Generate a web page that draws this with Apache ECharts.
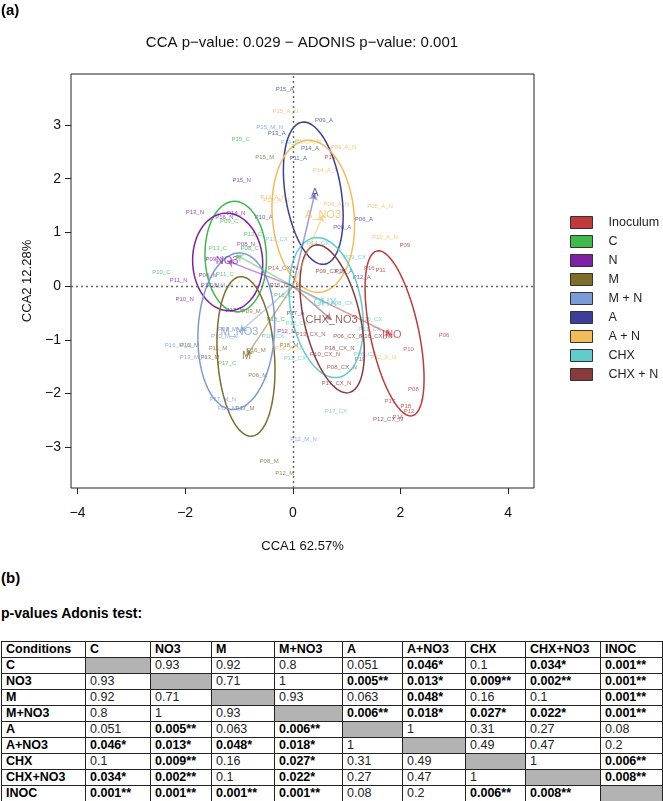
<!DOCTYPE html>
<html>
<head>
<meta charset="utf-8">
<title>CCA</title>
<script src="https://cdn.jsdelivr.net/npm/echarts@6/dist/echarts.min.js"></script>
<style>
  body { margin: 0; background: #fff; font-family: "Liberation Sans", Arial, sans-serif; }
  #chart { position: absolute; left: 0; top: 0; width: 663px; height: 560px; }
  .tag { position: absolute; left: 1px; font-weight: bold; color: #000; }
  #adonis { position: absolute; left: 1px; top: 641px; border-collapse: collapse; table-layout: fixed; }
  #adonis td { border: 1px solid #222; height: 15px; padding: 0 0 0 4px; font-size: 12.5px; line-height: 15px;
    white-space: nowrap; overflow: hidden; color: #222; }
  #adonis td.b { font-weight: bold; color: #000; }
  #adonis td.diag { background: #b3b3b3; }
</style>
</head>
<body>
<div id="chart"></div>
<div class="tag" style="top:569px;font-size:15px;">(b)</div>
<div class="tag" style="top:605px;font-size:14px;">p-values Adonis test:</div>
<table id="adonis"></table>

<script>
  // groups (legend order) and colours
  const groups = ['Inoculum', 'C', 'N', 'M', 'M + N', 'A', 'A + N', 'CHX', 'CHX + N'];
  const groupColors = ['#C0393B', '#3DBA4A', '#7F1FA6', '#7E6D2B', '#7B9AD8', '#3D3D9C', '#F2BC5A', '#62CCCC', '#8A3A3A'];

  // sample scores [CCA1, CCA2, label] per group
  const inocPts = [[2.08, 0.75, 'P09'], [0.69, 2.39, 'P13'], [1.42, 0.34, 'P16'], [1.63, 0.29, 'P11'], [2.81, -0.92, 'P06'],
    [2.15, -1.17, 'P10'], [1.25, -1.36, 'P19'], [2.24, -1.92, 'P08'], [1.80, -2.14, 'P17'], [2.10, -2.23, 'P18'],
    [2.16, -2.34, 'P12'], [1.95, -2.44, 'P14']];
  const cPts = [[-0.97, 2.74, 'P15_C'], [-1.18, 1.20, 'P09_C'], [-0.74, 0.97, 'P12_C'], [-1.39, 0.70, 'P13_C'], [-0.80, 0.70, 'P08_C'],
    [-2.44, 0.25, 'P10_C'], [-1.26, 0.22, 'P11_C'], [-0.18, -0.17, 'P16_C'], [-0.32, -0.62, 'P18_C'], [-1.22, -1.43, 'P17_C']];
  const nPts = [[-0.95, 1.97, 'P15_N'], [-1.82, 1.38, 'P13_N'], [-1.27, 1.28, 'P16_N'], [-1.05, 1.35, 'P14_N'], [-0.87, 0.78, 'P08_N'],
    [-1.45, 0.50, 'P09_N'], [-1.58, 0.20, 'P06_N'], [-2.12, 0.10, 'P11_N'], [-1.54, 0.02, 'P18_N'], [-2.01, -0.24, 'P10_N'],
    [-1.08, -0.45, 'P17_N'], [-0.12, -0.85, 'P12_N']];
  const mPts = [[-0.52, 2.39, 'P15_M'], [-0.77, -0.47, 'P09_M'], [-1.92, -1.11, 'P10_M'], [-1.39, -1.16, 'P11_M'], [-1.54, -1.32, 'P13_M'],
    [-0.68, -1.19, 'P16_M'], [-0.65, -1.66, 'P06_M'], [-0.89, -2.28, 'P17_M'], [-0.44, -3.27, 'P08_M'], [-0.15, -3.48, 'P12_M'],
    [-0.07, -1.10, 'P18_M']];
  const mnPts = [[-0.43, 2.95, 'P15_M_N'], [-1.36, 0.02, 'P08_M_N'], [-1.14, -0.81, 'P09_M_N'], [-1.27, -0.94, 'P10_M_N'],
    [-2.13, -1.11, 'P16_M_N'], [-1.85, -1.32, 'P13_M_N'], [-1.30, -2.11, 'P17_M_N'], [-1.14, -2.28, 'P06_M_N'], [0.20, -2.85, 'P12_M_N']];
  const aPts = [[-0.15, 3.66, 'P15_A'], [0.58, 3.09, 'P09_A'], [-0.30, 2.85, 'P13_A'], [0.32, 2.57, 'P14_A'], [0.10, 2.38, 'P11_A'],
    [-0.54, 1.28, 'P10_A'], [1.32, 1.25, 'P06_A'], [0.92, 1.10, 'P08_A'], [1.28, 0.16, 'P12_A'], [0.95, 0.27, 'P16_A'],
    [0.05, -0.51, 'P17_A']];
  const anPts = [[-0.14, 3.26, 'P15_A_N'], [0.28, 2.70, 'P16_A_N'], [0.94, 2.58, 'P09_A_N'], [0.61, 2.16, 'P14_A_N'],
    [-0.36, 1.66, 'P13_A_N'], [-0.31, 1.59, 'P17_A_N'], [0.81, 1.53, 'P06_A_N'], [1.62, 1.49, 'P08_A_N'], [1.71, 0.91, 'P10_A_N'],
    [1.68, -1.32, 'P12_A_N'], [-0.09, -1.16, 'P18_A_N']];
  const chxPts = [[-0.02, 2.67, 'P10_CX'], [-0.30, 0.87, 'P13_CX'], [0.47, 0.80, 'P14_CX'], [1.15, 0.53, 'P09_CX'], [0.91, -0.33, 'P08_CX'],
    [1.46, -0.62, 'P16_CX'], [1.43, -0.81, 'P11_CX'], [-0.37, -0.94, 'P18_CX'], [0.07, -0.69, 'P12_CX'], [1.34, -1.27, 'P06_CX'],
    [0.04, -1.35, 'P15_CX'], [0.80, -2.33, 'P17_CX']];
  const chxnPts = [[-0.18, 0.34, 'P14_CX_N'], [0.70, 0.27, 'P09_CX_N'], [-0.15, 0.01, 'P15_CX_N'], [0.33, -0.89, 'P13_CX_N'],
    [1.03, -0.93, 'P06_CX_N'], [1.53, -0.93, 'P16_CX_N'], [0.87, -1.15, 'P18_CX_N'], [0.60, -1.27, 'P10_CX_N'],
    [0.91, -1.51, 'P08_CX_N'], [0.81, -1.81, 'P17_CX_N'], [1.77, -2.48, 'P12_CX_N']];
  const samplePts = [inocPts, cPts, nPts, mPts, mnPts, aPts, anPts, chxPts, chxnPts];

  // group centroids (arrow tips), same order as groups
  const centroidNames = ['INO', 'C', 'NO3', 'M', 'M_NO3', 'A', 'A_NO3', 'CHX', 'CHX_NO3'];
  const centroidX = [1.84, -1.05, -1.22, -0.86, -0.99, 0.41, 0.56, 0.60, 0.72];
  const centroidY = [-0.91, 0.58, 0.47, -1.30, -0.85, 1.73, 1.32, -0.32, -0.63];
  const centroidShown = [true, false, true, true, true, true, true, true, true];

  // group ellipses: centre, semi axes, rotation (deg)
  const ellX = [1.89, -1.06, -1.21, -0.87, -1.05, 0.38, 0.38, 0.62, 0.73];
  const ellY = [-0.88, 0.55, 0.45, -1.31, -0.84, 1.73, 1.30, -0.40, -0.61];
  const ellA = [1.57, 1.03, 0.91, 1.49, 1.46, 1.34, 1.42, 1.32, 1.41];
  const ellB = [0.45, 0.57, 0.65, 0.53, 0.71, 0.52, 0.76, 0.66, 0.52];
  const ellAngle = [102, 92, 93, 94, 87, 99, 95, 100, 103];

  const xTicks = [-4, -2, 0, 2, 4];
  const yTicks = [-3, -2, -1, 0, 1, 2, 3];

  // adonis pairwise p-values
  const conditions = ['C', 'NO3', 'M', 'M+NO3', 'A', 'A+NO3', 'CHX', 'CHX+NO3', 'INOC'];
  const pValues = [
    [null, 0.93, 0.92, 0.8, 0.051, 0.046, 0.1, 0.034, 0.001],
    [0.93, null, 0.71, 1, 0.005, 0.013, 0.009, 0.002, 0.001],
    [0.92, 0.71, null, 0.93, 0.063, 0.048, 0.16, 0.1, 0.001],
    [0.8, 1, 0.93, null, 0.006, 0.018, 0.027, 0.022, 0.001],
    [0.051, 0.005, 0.063, 0.006, null, 1, 0.31, 0.27, 0.08],
    [0.046, 0.013, 0.048, 0.018, 1, null, 0.49, 0.47, 0.2],
    [0.1, 0.009, 0.16, 0.027, 0.31, 0.49, null, 1, 0.006],
    [0.034, 0.002, 0.1, 0.022, 0.27, 0.47, 1, null, 0.008],
    [0.001, 0.001, 0.001, 0.001, 0.08, 0.2, 0.006, 0.008, null]
  ];
  const colWidths = [84, 65, 61, 63, 68, 60, 63, 60, 75, 62];

  const FONT = '"Liberation Sans", Arial, sans-serif';

  function ellipsePoints(i) {
    const pts = [];
    const t = ellAngle[i] * Math.PI / 180;
    for (let k = 0; k <= 120; k++) {
      const u = k / 120 * 2 * Math.PI;
      const ex = ellA[i] * Math.cos(u), ey = ellB[i] * Math.sin(u);
      pts.push([ellX[i] + ex * Math.cos(t) - ey * Math.sin(t), ellY[i] + ex * Math.sin(t) + ey * Math.cos(t)]);
    }
    return pts;
  }

  const series = [];
  // ellipses (named like the legend so the legend picks their colour)
  groups.forEach((g, i) => {
    const s = {
      type: 'line', name: g, data: ellipsePoints(i), showSymbol: false, silent: true, z: 4,
      itemStyle: { color: groupColors[i] },
      lineStyle: { color: groupColors[i], width: 1.5 }
    };
    if (i === 0) {
      s.markLine = {
        silent: true, symbol: 'none', label: { show: false },
        lineStyle: { color: '#666', type: [2, 3], width: 1.4 },
        data: [{ xAxis: 0 }, { yAxis: 0 }]
      };
    }
    series.push(s);
  });
  // sample labels
  groups.forEach((g, i) => {
    series.push({
      type: 'scatter', name: 'lab ' + g, data: samplePts[i], symbolSize: 1, silent: true, z: 3,
      itemStyle: { color: 'rgba(0,0,0,0)' },
      label: { show: true, position: 'inside', formatter: p => p.data[2], color: groupColors[i], fontSize: 6, fontFamily: FONT }
    });
  });
  // arrows from origin to centroids
  series.push({
    type: 'lines', coordinateSystem: 'cartesian2d', silent: true, z: 5,
    symbol: ['none', 'arrow'], symbolSize: 7,
    data: centroidNames.map((n, i) => ({
      coords: [[0, 0], [centroidX[i], centroidY[i]]],
      lineStyle: { color: groupColors[i], width: 1.5 }
    }))
  });
  series.push({
    type: 'scatter', name: 'centroids', symbolSize: 1, silent: true, z: 6,
    itemStyle: { color: 'rgba(0,0,0,0)' },
    data: centroidNames.map((n, i) => ({
      value: [centroidX[i], centroidY[i]],
      label: { show: centroidShown[i], formatter: n, color: groupColors[i] }
    })),
    label: { position: 'inside', fontSize: 11, fontFamily: FONT }
  });

  const chart = echarts.init(document.getElementById('chart'));
  chart.setOption({
    animation: false,
    textStyle: { fontFamily: FONT },
    graphic: [
      { type: 'text', x: 1, y: 3, style: { text: '(a)', fill: '#000', font: 'bold 15px ' + FONT } },
      { type: 'text', x: 302, y: 43, style: { text: 'CCA p\u2212value: 0.029 \u2212 ADONIS p\u2212value: 0.001', fill: '#111',
          font: '15px ' + FONT, align: 'center', verticalAlign: 'middle', textAlign: 'center', textVerticalAlign: 'middle' } }
    ],
    legend: {
      data: groups, orient: 'vertical', left: 565, top: 211, icon: 'rect', itemWidth: 22, itemHeight: 12, itemGap: 6,
      selectedMode: false, itemStyle: { borderColor: '#333', borderWidth: 1 },
      textStyle: { fontSize: 12.5, color: '#222', padding: [0, 0, 0, 11] }
    },
    grid: { left: 71, top: 74, width: 463, height: 414, show: true, borderColor: '#222', borderWidth: 1,
      containLabel: false, outerBoundsMode: 'none' },
    xAxis: {
      type: 'value', min: -4.12, max: 4.48,
      name: 'CCA1 62.57%', nameLocation: 'middle', nameGap: 52, nameTextStyle: { fontSize: 13, color: '#111' },
      axisLine: { show: false, onZero: false }, splitLine: { show: false },
      axisTick: { show: true, length: 6, lineStyle: { color: '#222' }, customValues: xTicks },
      axisLabel: { customValues: xTicks, fontSize: 14, color: '#111', margin: 18, formatter: v => String(v).replace('-', '\u2212') }
    },
    yAxis: {
      type: 'value', min: -3.76, max: 3.95,
      name: 'CCA2 12.28%', nameLocation: 'middle', nameGap: 36, nameRotate: 90, nameTextStyle: { fontSize: 13, color: '#111' },
      axisLine: { show: false, onZero: false }, splitLine: { show: false },
      axisTick: { show: true, length: 6, lineStyle: { color: '#222' }, customValues: yTicks },
      axisLabel: { customValues: yTicks, fontSize: 14, color: '#111', margin: 10, formatter: v => String(v).replace('-', '\u2212') }
    },
    series: series
  });

  // table (b)
  const table = document.getElementById('adonis');
  const cg = document.createElement('colgroup');
  colWidths.forEach(w => { const c = document.createElement('col'); c.style.width = w + 'px'; cg.appendChild(c); });
  table.appendChild(cg);
  const head = table.insertRow();
  ['Conditions'].concat(conditions).forEach(t => { const c = head.insertCell(); c.textContent = t; c.className = 'b'; });
  conditions.forEach((name, r) => {
    const row = table.insertRow();
    const c0 = row.insertCell(); c0.textContent = name; c0.className = 'b';
    pValues[r].forEach(p => {
      const c = row.insertCell();
      if (p === null) { c.className = 'diag'; return; }
      const stars = p < 0.01 ? '**' : (p < 0.05 ? '*' : '');
      c.textContent = p + stars;
      if (stars) c.className = 'b';
    });
  });
</script>
</body>
</html>
